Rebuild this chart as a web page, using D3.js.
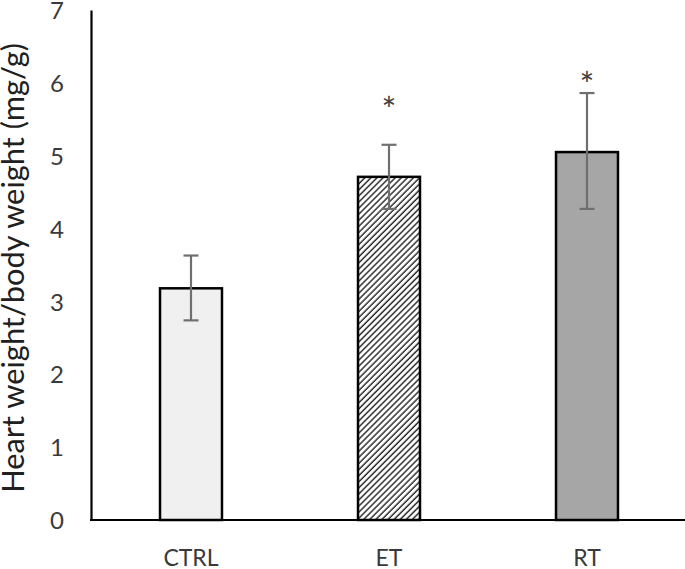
<!DOCTYPE html>
<html>
<head>
<meta charset="utf-8">
<script src="https://cdn.jsdelivr.net/npm/d3@7"></script>
<style>
  html, body { margin: 0; padding: 0; background: #ffffff; }
  svg { display: block; }
</style>
</head>
<body>
<svg id="chart" width="685" height="569"></svg>
<script>
// ---- data ----
const categories = ["CTRL", "ET", "RT"];
const means      = [3.18, 4.71, 5.05];
const errUpper   = [3.63, 5.15, 5.86];
const errLower   = [2.74, 4.27, 4.27];
const sigMarks   = ["", "*", "*"];
const sigLevels  = [null, 5.72, 6.06];
const yTicks     = [0, 1, 2, 3, 4, 5, 6, 7];
const yTitle     = "Heart weight/body weight (mg/g)";

// ---- styles ----
const fills = ["#f0f0f0", "url(#hatch)", "#a6a6a6"];
const font = "Lato, 'Open Sans', sans-serif";
const textColor = "#3a3a3a";

const svg = d3.select("#chart");

const defs = svg.append("defs");
const pat = defs.append("pattern")
  .attr("id", "hatch")
  .attr("patternUnits", "userSpaceOnUse")
  .attr("width", 4.3).attr("height", 10)
  .attr("patternTransform", "rotate(45)");
pat.append("rect").attr("width", 4.3).attr("height", 10).attr("fill", "#ffffff");
pat.append("line").attr("x1", 1).attr("y1", 0).attr("x2", 1).attr("y2", 10)
  .attr("stroke", "#222").attr("stroke-width", 1.4);

const y = d3.scaleLinear().domain([0, 7]).range([520, 10]);
const x = d3.scaleBand().domain(categories).range([92, 686])
  .paddingInner(0.687).paddingOuter(0.3435);

// axes
const yAxis = svg.append("g").attr("transform", "translate(91,0)")
  .call(d3.axisLeft(y).tickValues(yTicks).tickSize(0).tickPadding(27).tickFormat(d3.format("d")));
yAxis.select(".domain").attr("stroke", "#000").attr("stroke-width", 2.2);
yAxis.selectAll("text").attr("font-family", font).attr("font-size", 24)
  .attr("fill", textColor).attr("dy", "0.36em");

const xAxis = svg.append("g").attr("transform", "translate(0,520)")
  .call(d3.axisBottom(x).tickSize(0).tickPadding(30));
xAxis.select(".domain").attr("stroke", "#000").attr("stroke-width", 2.2)
  .attr("d", "M90,0H686");
xAxis.selectAll("text").attr("font-family", font).attr("font-size", 23)
  .attr("fill", textColor).attr("dy", "0.71em");

// bars
svg.append("g").selectAll("rect").data(categories).join("rect")
  .attr("x", d => x(d))
  .attr("y", (d, i) => y(means[i]))
  .attr("width", x.bandwidth())
  .attr("height", (d, i) => y(0) - y(means[i]))
  .attr("fill", (d, i) => fills[i])
  .attr("stroke", "#000")
  .attr("stroke-width", 2.5);

// error bars
const eb = svg.append("g").attr("stroke", "#6f6f6f").attr("stroke-width", 2.2);
categories.forEach((c, i) => {
  const cx = x(c) + x.bandwidth() / 2;
  eb.append("line").attr("x1", cx).attr("x2", cx).attr("y1", y(errUpper[i])).attr("y2", y(errLower[i]));
  eb.append("line").attr("x1", cx - 7.5).attr("x2", cx + 7.5).attr("y1", y(errUpper[i])).attr("y2", y(errUpper[i]));
  eb.append("line").attr("x1", cx - 7.5).attr("x2", cx + 7.5).attr("y1", y(errLower[i])).attr("y2", y(errLower[i]));
});

// significance marks
svg.append("g").selectAll("text").data(categories).join("text")
  .filter((d, i) => sigMarks[i] !== "")
  .attr("x", d => x(d) + x.bandwidth() / 2)
  .attr("y", d => y(sigLevels[categories.indexOf(d)]) + 19)
  .attr("text-anchor", "middle")
  .attr("font-family", font).attr("font-size", 35).attr("fill", "#404040")
  .text(d => sigMarks[categories.indexOf(d)]);

// y title
const title = svg.append("text")
  .attr("transform", "translate(24,268) rotate(-90)")
  .attr("text-anchor", "middle")
  .attr("font-family", font).attr("font-size", 24).attr("fill", "#202020")
  .text(yTitle);
const len = title.node().getComputedTextLength();
title.attr("font-size", 24 * 450 / len);
</script>
</body>
</html>
